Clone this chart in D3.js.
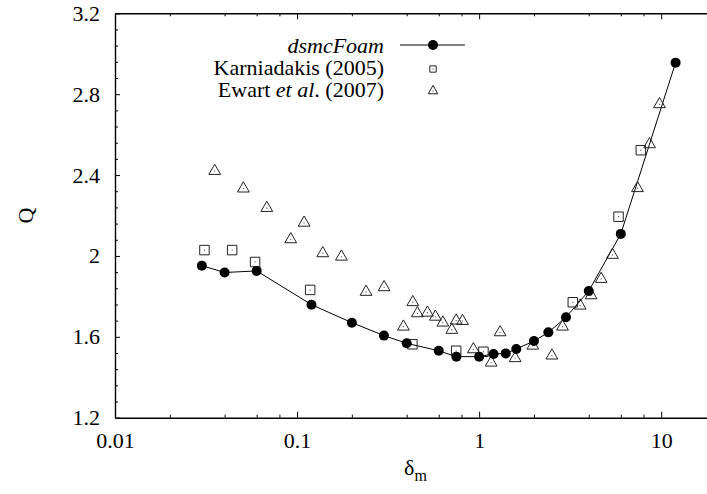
<!DOCTYPE html>
<html>
<head>
<meta charset="utf-8">
<script src="https://cdn.jsdelivr.net/npm/d3@7"></script>
<style>
  html, body { margin: 0; padding: 0; background: #fff; }
  svg text { font-family: "Liberation Serif", "Times New Roman", Times, "DejaVu Serif", serif; }
</style>
</head>
<body>
<svg id="chart" width="707" height="494"></svg>
<script>
// dsmcFoam simulation results (line + filled circles)
const dsmcX = [0.03, 0.04, 0.06, 0.12, 0.2, 0.3, 0.4, 0.6, 0.75, 1.0, 1.2, 1.4, 1.6, 2.0, 2.4, 3.0, 4.0, 6.0, 12.0];
const dsmcQ = [1.952, 1.918, 1.926, 1.759, 1.670, 1.606, 1.568, 1.531, 1.502, 1.502, 1.515, 1.518, 1.540, 1.579, 1.622, 1.697, 1.827, 2.109, 2.956];

// Karniadakis (2005) reference values (open squares)
const karnX = [0.031, 0.044, 0.0588, 0.118, 0.430, 0.748, 1.056, 3.27, 5.83, 7.73];
const karnQ = [2.029, 2.029, 1.970, 1.832, 1.563, 1.531, 1.526, 1.771, 2.194, 2.523];

// Ewart et al. (2007) measurements (open triangles)
const ewartX = [0.0353, 0.0507, 0.0682, 0.0923, 0.1093, 0.1384, 0.1752, 0.2394, 0.3006, 0.3838, 0.4323, 0.458, 0.52, 0.575, 0.632, 0.708, 0.748, 0.81, 0.93, 1.164, 1.304, 1.577, 1.972, 2.51, 2.87, 3.59, 4.12, 4.68, 5.40, 7.41, 8.63, 9.79];
const ewartQ = [2.42, 2.333, 2.237, 2.082, 2.164, 2.013, 1.996, 1.822, 1.845, 1.650, 1.771, 1.716, 1.719, 1.699, 1.670, 1.634, 1.680, 1.678, 1.538, 1.472, 1.622, 1.494, 1.556, 1.507, 1.650, 1.754, 1.805, 1.886, 2.005, 2.335, 2.552, 2.75];

// Axis ticks
const xMajor = [0.01, 0.1, 1, 10];
const xMajorLabels = ["0.01", "0.1", "1", "10"];
const xMinor = [0.02, 0.04, 0.06, 0.08, 0.2, 0.4, 0.6, 0.8, 2, 4, 6, 8];
const yMajor = [1.2, 1.6, 2.0, 2.4, 2.8, 3.2];
const yMajorLabels = ["1.2", "1.6", "2", "2.4", "2.8", "3.2"];
const yMinor = d3.range(1.2, 3.2001, 0.08).filter(v => !yMajor.some(m => Math.abs(m - v) < 1e-6));

const plotLeft = 115, plotRight = 716, plotTop = 13.3, plotBottom = 417.7;
const svg = d3.select("#chart");

const x = d3.scaleLog().domain([0.01, 20]).range([plotLeft, plotRight]);
const y = d3.scaleLinear().domain([1.2, 3.2]).range([plotBottom, plotTop]);

const fontSize = 22;

// Bottom axis: major ticks with labels, inward ticks
svg.append("g").attr("transform", `translate(0,${plotBottom})`)
  .call(d3.axisBottom(x).tickValues(xMajor)
    .tickFormat((d, i) => xMajorLabels[i]).tickSizeInner(-6).tickSizeOuter(0).tickPadding(15));
svg.append("g").attr("transform", `translate(0,${plotBottom})`)
  .call(d3.axisBottom(x).tickValues(xMinor).tickFormat("").tickSizeInner(-3).tickSizeOuter(0))
  .select(".domain").remove();

// Top axis: ticks only
svg.append("g").attr("transform", `translate(0,${plotTop})`)
  .call(d3.axisTop(x).tickValues(xMajor).tickFormat("").tickSizeInner(-6).tickSizeOuter(0));
svg.append("g").attr("transform", `translate(0,${plotTop})`)
  .call(d3.axisTop(x).tickValues(xMinor).tickFormat("").tickSizeInner(-3).tickSizeOuter(0))
  .select(".domain").remove();

// Left axis
svg.append("g").attr("transform", `translate(${plotLeft},0)`)
  .call(d3.axisLeft(y).tickValues(yMajor).tickFormat((d, i) => yMajorLabels[i])
    .tickSizeInner(-5).tickSizeOuter(0).tickPadding(15));
svg.append("g").attr("transform", `translate(${plotLeft},0)`)
  .call(d3.axisLeft(y).tickValues(yMinor).tickFormat("").tickSizeInner(-3).tickSizeOuter(0))
  .select(".domain").remove();

// Right axis (plot frame)
svg.append("g").attr("transform", `translate(${plotRight},0)`)
  .call(d3.axisRight(y).tickValues(yMajor).tickFormat("").tickSizeInner(-5).tickSizeOuter(0));

svg.selectAll("g").attr("font-family", null);
svg.selectAll(".domain").attr("stroke", "#000").attr("stroke-width", 1.4);
svg.selectAll(".tick line").attr("stroke", "#000").attr("stroke-width", 1);
svg.selectAll(".tick text").attr("font-size", fontSize).attr("fill", "#000");

// Axis titles
svg.append("text")
  .attr("transform", `translate(33,${(plotTop + plotBottom) / 2}) rotate(-90)`)
  .attr("text-anchor", "middle").attr("font-size", fontSize).text("Q");

const xt = svg.append("text").attr("x", (plotLeft + plotRight) / 2).attr("y", 475)
  .attr("text-anchor", "middle").attr("font-size", fontSize);
xt.append("tspan").text("δ");
xt.append("tspan").attr("font-size", 16).attr("dy", 6).text("m");

// dsmcFoam line
const line = d3.line().x((d, i) => x(dsmcX[i])).y((d, i) => y(dsmcQ[i]));
svg.append("path").datum(dsmcQ).attr("d", line)
  .attr("fill", "none").attr("stroke", "#000").attr("stroke-width", 1);

// Open symbol with a centre dot
function openSymbol(g, type, size) {
  g.append("path").attr("d", d3.symbol().type(type).size(size)).attr("fill", "none")
    .attr("stroke", "#222").attr("stroke-width", 1);
  g.append("rect").attr("x", -0.5).attr("y", -0.5).attr("width", 1).attr("height", 1).attr("fill", "#333");
}

function drawOpen(xs, qs, type, size) {
  svg.append("g").selectAll(null).data(qs).enter().append("g")
    .attr("transform", (d, i) => `translate(${x(xs[i])},${y(d)})`)
    .each(function () { openSymbol(d3.select(this), type, size); });
}

drawOpen(karnX, karnQ, d3.symbolSquare, 90);
drawOpen(ewartX, ewartQ, d3.symbolTriangle, 60);

svg.append("g").selectAll("circle").data(dsmcQ).enter().append("circle")
  .attr("cx", (d, i) => x(dsmcX[i])).attr("cy", d => y(d)).attr("r", 5).attr("fill", "#000");

// Legend
const lg = svg.append("g");
const lx = 384, sx = 433;
lg.append("text").attr("x", lx).attr("y", 53).attr("text-anchor", "end")
  .attr("font-size", fontSize).attr("font-style", "italic").text("dsmcFoam");
lg.append("line").attr("x1", 400).attr("x2", 465).attr("y1", 45).attr("y2", 45)
  .attr("stroke", "#000").attr("stroke-width", 1);
lg.append("circle").attr("cx", sx).attr("cy", 45).attr("r", 5).attr("fill", "#000");

lg.append("text").attr("x", lx).attr("y", 75).attr("text-anchor", "end")
  .attr("font-size", fontSize).text("Karniadakis (2005)");
openSymbol(lg.append("g").attr("transform", `translate(${sx},69)`), d3.symbolSquare, 40);

const et = lg.append("text").attr("x", lx).attr("y", 97).attr("text-anchor", "end").attr("font-size", fontSize);
et.append("tspan").text("Ewart ");
et.append("tspan").attr("font-style", "italic").text("et al");
et.append("tspan").text(". (2007)");
openSymbol(lg.append("g").attr("transform", `translate(${sx},91)`), d3.symbolTriangle, 40);
</script>
</body>
</html>
